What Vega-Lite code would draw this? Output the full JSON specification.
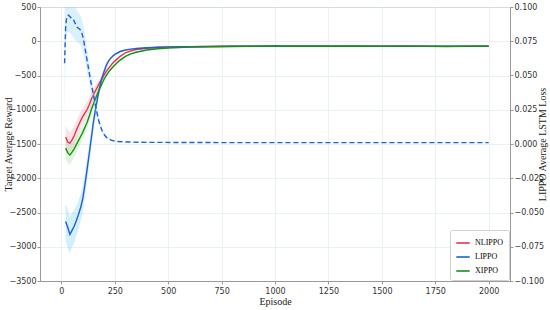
{
  "$schema": "https://vega.github.io/schema/vega-lite/v6.json",
  "width": 470,
  "height": 274,
  "autosize": {"type": "none"},
  "padding": {"left": 40, "right": 40, "top": 7, "bottom": 29},
  "background": "white",
  "config": {
    "view": {"stroke": "#9a9a9a", "strokeWidth": 1},
    "axis": {
      "labelFont": "DejaVu Sans", "labelFontSize": 8, "labelColor": "#333", "labelOverlap": false,
      "titleFont": "Liberation Serif", "titleFontSize": 10, "titleFontWeight": "normal", "titleColor": "#222",
      "domainColor": "#9a9a9a", "tickColor": "#9a9a9a", "tickSize": 3,
      "gridColor": "#e6ecf2", "gridWidth": 0.8
    },
    "legend": {
      "orient": "bottom-right", "offset": 1, "fillColor": "white", "strokeColor": "#d0d0d0",
      "padding": 5, "cornerRadius": 2, "labelFont": "Liberation Serif", "labelFontSize": 8,
      "symbolType": "stroke", "symbolSize": 180, "symbolStrokeWidth": 1.6, "rowPadding": 2
    }
  },
  "datasets": {
    "reward": [
      {"s":"NLIPPO","e":20,"v":-1400,"lo":-1560,"hi":-1230},
      {"s":"NLIPPO","e":30,"v":-1470,"lo":-1620,"hi":-1300},
      {"s":"NLIPPO","e":40,"v":-1490,"lo":-1630,"hi":-1330},
      {"s":"NLIPPO","e":50,"v":-1440,"lo":-1580,"hi":-1290},
      {"s":"NLIPPO","e":60,"v":-1380,"lo":-1510,"hi":-1240},
      {"s":"NLIPPO","e":70,"v":-1300,"lo":-1430,"hi":-1170},
      {"s":"NLIPPO","e":80,"v":-1230,"lo":-1350,"hi":-1100},
      {"s":"NLIPPO","e":90,"v":-1160,"lo":-1280,"hi":-1030},
      {"s":"NLIPPO","e":100,"v":-1100,"lo":-1210,"hi":-980},
      {"s":"NLIPPO","e":110,"v":-1050,"lo":-1160,"hi":-930},
      {"s":"NLIPPO","e":120,"v":-1000,"lo":-1100,"hi":-880},
      {"s":"NLIPPO","e":130,"v":-930,"lo":-1030,"hi":-820},
      {"s":"NLIPPO","e":140,"v":-850,"lo":-950,"hi":-750},
      {"s":"NLIPPO","e":150,"v":-780,"lo":-870,"hi":-690},
      {"s":"NLIPPO","e":160,"v":-720,"lo":-800,"hi":-640},
      {"s":"NLIPPO","e":170,"v":-660,"lo":-730,"hi":-590},
      {"s":"NLIPPO","e":180,"v":-600,"lo":-660,"hi":-540},
      {"s":"NLIPPO","e":190,"v":-550,"lo":-600,"hi":-500},
      {"s":"NLIPPO","e":200,"v":-490,"lo":-535,"hi":-450},
      {"s":"NLIPPO","e":210,"v":-440,"lo":-480,"hi":-405},
      {"s":"NLIPPO","e":220,"v":-400,"lo":-435,"hi":-368},
      {"s":"NLIPPO","e":230,"v":-360,"lo":-390,"hi":-332},
      {"s":"NLIPPO","e":240,"v":-320,"lo":-345,"hi":-297},
      {"s":"NLIPPO","e":250,"v":-290,"lo":-312,"hi":-270},
      {"s":"NLIPPO","e":275,"v":-220,"lo":-238,"hi":-203},
      {"s":"NLIPPO","e":300,"v":-168,"lo":-182,"hi":-155},
      {"s":"NLIPPO","e":325,"v":-140,"lo":-152,"hi":-129},
      {"s":"NLIPPO","e":350,"v":-120,"lo":-130,"hi":-111},
      {"s":"NLIPPO","e":400,"v":-102,"lo":-110,"hi":-95},
      {"s":"NLIPPO","e":450,"v":-92,"lo":-99,"hi":-86},
      {"s":"NLIPPO","e":500,"v":-86,"lo":-92,"hi":-80},
      {"s":"NLIPPO","e":600,"v":-80,"lo":-86,"hi":-74},
      {"s":"NLIPPO","e":700,"v":-76,"lo":-82,"hi":-70},
      {"s":"NLIPPO","e":800,"v":-74,"lo":-80,"hi":-68},
      {"s":"NLIPPO","e":900,"v":-73,"lo":-79,"hi":-67},
      {"s":"NLIPPO","e":1000,"v":-71,"lo":-77,"hi":-65},
      {"s":"NLIPPO","e":1100,"v":-72,"lo":-78,"hi":-66},
      {"s":"NLIPPO","e":1200,"v":-73,"lo":-79,"hi":-67},
      {"s":"NLIPPO","e":1300,"v":-72,"lo":-78,"hi":-66},
      {"s":"NLIPPO","e":1400,"v":-73,"lo":-79,"hi":-67},
      {"s":"NLIPPO","e":1500,"v":-74,"lo":-80,"hi":-68},
      {"s":"NLIPPO","e":1600,"v":-73,"lo":-79,"hi":-67},
      {"s":"NLIPPO","e":1700,"v":-74,"lo":-80,"hi":-68},
      {"s":"NLIPPO","e":1800,"v":-75,"lo":-81,"hi":-69},
      {"s":"NLIPPO","e":1900,"v":-74,"lo":-80,"hi":-68},
      {"s":"NLIPPO","e":2000,"v":-73,"lo":-79,"hi":-67},

      {"s":"LIPPO","e":20,"v":-2630,"lo":-2900,"hi":-2380},
      {"s":"LIPPO","e":30,"v":-2720,"lo":-3020,"hi":-2450},
      {"s":"LIPPO","e":40,"v":-2820,"lo":-3100,"hi":-2550},
      {"s":"LIPPO","e":50,"v":-2760,"lo":-3010,"hi":-2500},
      {"s":"LIPPO","e":60,"v":-2700,"lo":-2940,"hi":-2460},
      {"s":"LIPPO","e":70,"v":-2620,"lo":-2840,"hi":-2400},
      {"s":"LIPPO","e":80,"v":-2530,"lo":-2740,"hi":-2320},
      {"s":"LIPPO","e":90,"v":-2430,"lo":-2630,"hi":-2230},
      {"s":"LIPPO","e":100,"v":-2300,"lo":-2490,"hi":-2110},
      {"s":"LIPPO","e":110,"v":-2100,"lo":-2280,"hi":-1920},
      {"s":"LIPPO","e":120,"v":-1880,"lo":-2050,"hi":-1710},
      {"s":"LIPPO","e":130,"v":-1650,"lo":-1810,"hi":-1490},
      {"s":"LIPPO","e":140,"v":-1420,"lo":-1570,"hi":-1270},
      {"s":"LIPPO","e":150,"v":-1180,"lo":-1310,"hi":-1050},
      {"s":"LIPPO","e":160,"v":-990,"lo":-1100,"hi":-880},
      {"s":"LIPPO","e":170,"v":-820,"lo":-910,"hi":-730},
      {"s":"LIPPO","e":180,"v":-660,"lo":-740,"hi":-590},
      {"s":"LIPPO","e":190,"v":-535,"lo":-600,"hi":-475},
      {"s":"LIPPO","e":200,"v":-440,"lo":-495,"hi":-390},
      {"s":"LIPPO","e":210,"v":-355,"lo":-400,"hi":-315},
      {"s":"LIPPO","e":220,"v":-295,"lo":-330,"hi":-262},
      {"s":"LIPPO","e":230,"v":-250,"lo":-278,"hi":-224},
      {"s":"LIPPO","e":240,"v":-218,"lo":-240,"hi":-197},
      {"s":"LIPPO","e":250,"v":-192,"lo":-210,"hi":-175},
      {"s":"LIPPO","e":275,"v":-150,"lo":-163,"hi":-138},
      {"s":"LIPPO","e":300,"v":-128,"lo":-138,"hi":-119},
      {"s":"LIPPO","e":325,"v":-115,"lo":-124,"hi":-107},
      {"s":"LIPPO","e":350,"v":-106,"lo":-114,"hi":-99},
      {"s":"LIPPO","e":400,"v":-94,"lo":-101,"hi":-88},
      {"s":"LIPPO","e":450,"v":-87,"lo":-93,"hi":-81},
      {"s":"LIPPO","e":500,"v":-82,"lo":-88,"hi":-76},
      {"s":"LIPPO","e":600,"v":-78,"lo":-84,"hi":-72},
      {"s":"LIPPO","e":700,"v":-75,"lo":-81,"hi":-69},
      {"s":"LIPPO","e":800,"v":-73,"lo":-79,"hi":-67},
      {"s":"LIPPO","e":900,"v":-72,"lo":-78,"hi":-66},
      {"s":"LIPPO","e":1000,"v":-70,"lo":-76,"hi":-64},
      {"s":"LIPPO","e":1100,"v":-71,"lo":-77,"hi":-65},
      {"s":"LIPPO","e":1200,"v":-72,"lo":-78,"hi":-66},
      {"s":"LIPPO","e":1300,"v":-71,"lo":-77,"hi":-65},
      {"s":"LIPPO","e":1400,"v":-72,"lo":-78,"hi":-66},
      {"s":"LIPPO","e":1500,"v":-73,"lo":-79,"hi":-67},
      {"s":"LIPPO","e":1600,"v":-72,"lo":-78,"hi":-66},
      {"s":"LIPPO","e":1700,"v":-73,"lo":-79,"hi":-67},
      {"s":"LIPPO","e":1800,"v":-74,"lo":-80,"hi":-68},
      {"s":"LIPPO","e":1900,"v":-73,"lo":-79,"hi":-67},
      {"s":"LIPPO","e":2000,"v":-72,"lo":-78,"hi":-66},

      {"s":"XIPPO","e":20,"v":-1560,"lo":-1720,"hi":-1410},
      {"s":"XIPPO","e":30,"v":-1630,"lo":-1780,"hi":-1480},
      {"s":"XIPPO","e":40,"v":-1660,"lo":-1800,"hi":-1520},
      {"s":"XIPPO","e":50,"v":-1620,"lo":-1750,"hi":-1490},
      {"s":"XIPPO","e":60,"v":-1570,"lo":-1690,"hi":-1450},
      {"s":"XIPPO","e":70,"v":-1510,"lo":-1630,"hi":-1390},
      {"s":"XIPPO","e":80,"v":-1450,"lo":-1560,"hi":-1340},
      {"s":"XIPPO","e":90,"v":-1390,"lo":-1500,"hi":-1280},
      {"s":"XIPPO","e":100,"v":-1330,"lo":-1430,"hi":-1230},
      {"s":"XIPPO","e":110,"v":-1260,"lo":-1360,"hi":-1160},
      {"s":"XIPPO","e":120,"v":-1190,"lo":-1280,"hi":-1100},
      {"s":"XIPPO","e":130,"v":-1100,"lo":-1185,"hi":-1015},
      {"s":"XIPPO","e":140,"v":-1000,"lo":-1080,"hi":-925},
      {"s":"XIPPO","e":150,"v":-915,"lo":-985,"hi":-845},
      {"s":"XIPPO","e":160,"v":-835,"lo":-900,"hi":-775},
      {"s":"XIPPO","e":170,"v":-760,"lo":-815,"hi":-705},
      {"s":"XIPPO","e":180,"v":-690,"lo":-740,"hi":-640},
      {"s":"XIPPO","e":190,"v":-620,"lo":-665,"hi":-578},
      {"s":"XIPPO","e":200,"v":-555,"lo":-595,"hi":-518},
      {"s":"XIPPO","e":210,"v":-500,"lo":-535,"hi":-467},
      {"s":"XIPPO","e":220,"v":-455,"lo":-486,"hi":-425},
      {"s":"XIPPO","e":230,"v":-415,"lo":-443,"hi":-388},
      {"s":"XIPPO","e":240,"v":-380,"lo":-405,"hi":-356},
      {"s":"XIPPO","e":250,"v":-348,"lo":-370,"hi":-327},
      {"s":"XIPPO","e":275,"v":-275,"lo":-292,"hi":-259},
      {"s":"XIPPO","e":300,"v":-220,"lo":-234,"hi":-207},
      {"s":"XIPPO","e":325,"v":-185,"lo":-197,"hi":-174},
      {"s":"XIPPO","e":350,"v":-160,"lo":-170,"hi":-151},
      {"s":"XIPPO","e":400,"v":-128,"lo":-136,"hi":-121},
      {"s":"XIPPO","e":450,"v":-110,"lo":-117,"hi":-104},
      {"s":"XIPPO","e":500,"v":-98,"lo":-104,"hi":-92},
      {"s":"XIPPO","e":600,"v":-86,"lo":-92,"hi":-80},
      {"s":"XIPPO","e":700,"v":-80,"lo":-86,"hi":-74},
      {"s":"XIPPO","e":800,"v":-77,"lo":-83,"hi":-71},
      {"s":"XIPPO","e":900,"v":-75,"lo":-81,"hi":-69},
      {"s":"XIPPO","e":1000,"v":-73,"lo":-79,"hi":-67},
      {"s":"XIPPO","e":1100,"v":-74,"lo":-80,"hi":-68},
      {"s":"XIPPO","e":1200,"v":-74,"lo":-80,"hi":-68},
      {"s":"XIPPO","e":1300,"v":-73,"lo":-79,"hi":-67},
      {"s":"XIPPO","e":1400,"v":-74,"lo":-80,"hi":-68},
      {"s":"XIPPO","e":1500,"v":-75,"lo":-81,"hi":-69},
      {"s":"XIPPO","e":1600,"v":-74,"lo":-80,"hi":-68},
      {"s":"XIPPO","e":1700,"v":-75,"lo":-81,"hi":-69},
      {"s":"XIPPO","e":1800,"v":-76,"lo":-82,"hi":-70},
      {"s":"XIPPO","e":1900,"v":-75,"lo":-81,"hi":-69},
      {"s":"XIPPO","e":2000,"v":-74,"lo":-80,"hi":-68}
    ],
    "loss": [
      {"e":15,"v":0.059,"lo":0.02,"hi":0.12},
      {"e":20,"v":0.085,"lo":0.07,"hi":0.11},
      {"e":25,"v":0.093,"lo":0.08,"hi":0.11},
      {"e":33,"v":0.094,"lo":0.082,"hi":0.108},
      {"e":40,"v":0.093,"lo":0.081,"hi":0.106},
      {"e":50,"v":0.091,"lo":0.079,"hi":0.104},
      {"e":56,"v":0.091,"lo":0.078,"hi":0.104},
      {"e":65,"v":0.088,"lo":0.076,"hi":0.1},
      {"e":75,"v":0.085,"lo":0.074,"hi":0.097},
      {"e":85,"v":0.084,"lo":0.073,"hi":0.095},
      {"e":95,"v":0.082,"lo":0.071,"hi":0.092},
      {"e":105,"v":0.075,"lo":0.065,"hi":0.085},
      {"e":115,"v":0.066,"lo":0.057,"hi":0.075},
      {"e":125,"v":0.057,"lo":0.049,"hi":0.065},
      {"e":135,"v":0.048,"lo":0.041,"hi":0.055},
      {"e":145,"v":0.04,"lo":0.034,"hi":0.046},
      {"e":155,"v":0.032,"lo":0.027,"hi":0.037},
      {"e":165,"v":0.024,"lo":0.02,"hi":0.028},
      {"e":175,"v":0.017,"lo":0.014,"hi":0.02},
      {"e":185,"v":0.012,"lo":0.01,"hi":0.014},
      {"e":195,"v":0.008,"lo":0.0065,"hi":0.0095},
      {"e":210,"v":0.005,"lo":0.004,"hi":0.006},
      {"e":230,"v":0.003,"lo":0.0024,"hi":0.0036},
      {"e":250,"v":0.002,"lo":0.0016,"hi":0.0024},
      {"e":300,"v":0.0015,"lo":0.0012,"hi":0.0018},
      {"e":400,"v":0.0012,"lo":0.001,"hi":0.0014},
      {"e":600,"v":0.0011,"lo":0.0009,"hi":0.0013},
      {"e":800,"v":0.001,"lo":0.0008,"hi":0.0012},
      {"e":1000,"v":0.001,"lo":0.0008,"hi":0.0012},
      {"e":1200,"v":0.001,"lo":0.0008,"hi":0.0012},
      {"e":1400,"v":0.001,"lo":0.0008,"hi":0.0012},
      {"e":1600,"v":0.001,"lo":0.0008,"hi":0.0012},
      {"e":1800,"v":0.001,"lo":0.0008,"hi":0.0012},
      {"e":2000,"v":0.001,"lo":0.0008,"hi":0.0012}
    ]
  },
  "encoding": {
    "x": {
      "field": "e", "type": "quantitative",
      "scale": {"domain": [-100, 2100], "nice": false, "zero": false},
      "axis": {"title": "Episode", "format": "d", "values": [0,250,500,750,1000,1250,1500,1750,2000], "tickCount": 20, "titlePadding": 1, "labelPadding": 3}
    }
  },
  "layer": [
    {
      "data": {"name": "reward"},
      "layer": [
        {
          "transform": [{"filter": "datum.s === 'NLIPPO'"}],
          "mark": {"type": "area", "color": "#f59aa8", "opacity": 0.3, "clip": true},
          "encoding": {"y": {"field": "lo", "type": "quantitative"}, "y2": {"field": "hi"}}
        },
        {
          "transform": [{"filter": "datum.s === 'LIPPO'"}],
          "mark": {"type": "area", "color": "#7fd0f5", "opacity": 0.35, "clip": true},
          "encoding": {"y": {"field": "lo", "type": "quantitative"}, "y2": {"field": "hi"}}
        },
        {
          "transform": [{"filter": "datum.s === 'XIPPO'"}],
          "mark": {"type": "area", "color": "#8fe08f", "opacity": 0.3, "clip": true},
          "encoding": {"y": {"field": "lo", "type": "quantitative"}, "y2": {"field": "hi"}}
        },
        {
          "mark": {"type": "line", "strokeWidth": 1.4, "clip": true},
          "encoding": {
            "y": {"field": "v", "type": "quantitative",
              "scale": {"domain": [-3500, 500], "nice": false},
              "axis": {"title": "Target Average Reward", "format": "d", "values": [500,0,-500,-1000,-1500,-2000,-2500,-3000,-3500],
                "tickCount": 20, "labelOverlap": false, "titleX": -27, "titleBaseline": "bottom", "labelPadding": 1}},
            "color": {"field": "s", "type": "nominal", "sort": ["NLIPPO","LIPPO","XIPPO"],
              "scale": {"domain": ["NLIPPO","LIPPO","XIPPO"], "range": ["#e8334f","#1f5fd0","#159015"]},
              "legend": {"title": null}}
          }
        }
      ]
    },
    {
      "data": {"name": "loss"},
      "layer": [
        {
          "mark": {"type": "area", "color": "#87cefa", "opacity": 0.3, "clip": true},
          "encoding": {
            "y": {"field": "lo", "type": "quantitative"},
            "y2": {"field": "hi"}
          }
        },
        {
          "mark": {"type": "line", "color": "#1f5fd0", "strokeWidth": 1.4, "strokeDash": [5, 3], "clip": true},
          "encoding": {
            "y": {"field": "v", "type": "quantitative",
              "scale": {"domain": [-0.1, 0.1], "nice": false},
              "axis": {"orient": "right", "title": "LIPPO Average LSTM Loss", "format": ".3f", "grid": false,
                "values": [-0.1,-0.075,-0.05,-0.025,0,0.025,0.05,0.075,0.1], "tickCount": 20, "labelOverlap": false,
                "titleAngle": -90, "titleX": 37, "titleBaseline": "bottom", "labelPadding": 1}}
          }
        }
      ]
    }
  ],
  "resolve": {"scale": {"y": "independent"}}
}
